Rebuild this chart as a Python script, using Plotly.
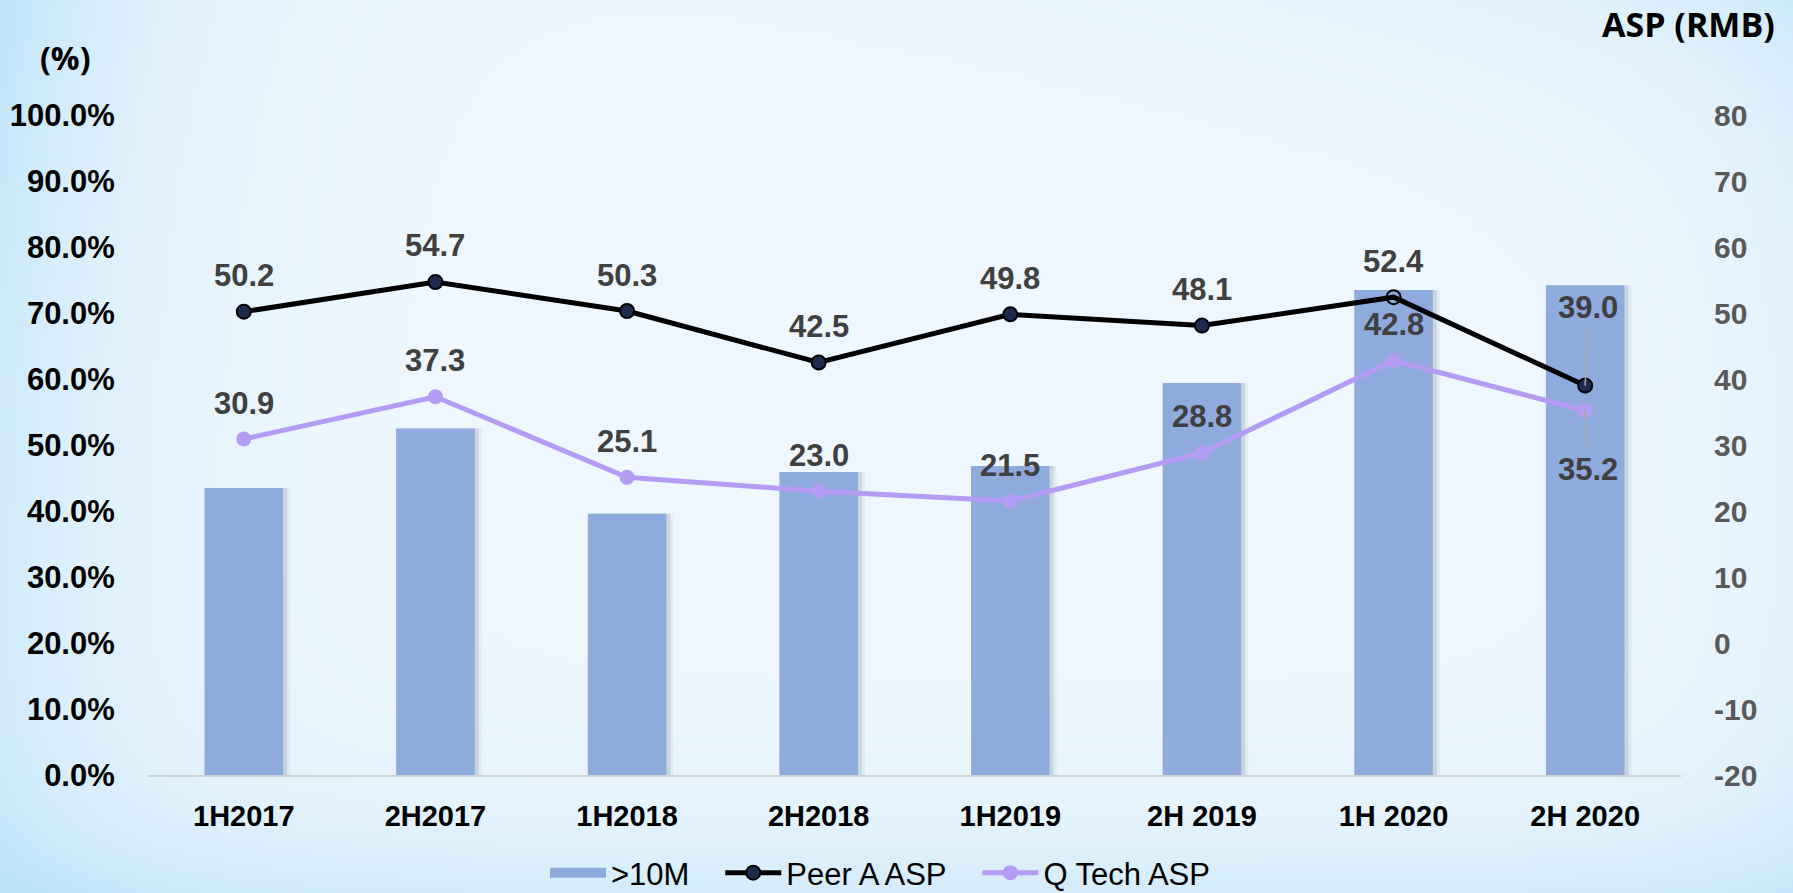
import base64
import struct
import zlib

import numpy as np
import plotly.graph_objects as go

# ---------------- data ----------------
categories = ["1H2017", "2H2017", "1H2018", "2H2018", "1H2019", "2H 2019", "1H 2020", "2H 2020"]
share_10m = [43.5, 52.5, 39.6, 45.9, 46.8, 59.4, 73.5, 74.2]          # left axis, %
peer_a_asp = [50.2, 54.7, 50.3, 42.5, 49.8, 48.1, 52.4, 39.0]         # right axis, RMB
q_tech_asp = [30.9, 37.3, 25.1, 23.0, 21.5, 28.8, 42.8, 35.2]         # right axis, RMB
left_ticks = [0, 10, 20, 30, 40, 50, 60, 70, 80, 90, 100]
right_ticks = [-20, -10, 0, 10, 20, 30, 40, 50, 60, 70, 80]
series_names = [">10M", "Peer A ASP", "Q Tech ASP"]

# ---------------- geometry / style ----------------
W, H = 1793, 893
ML, MR, MT, MB = 148, 112, 115, 118
PW, PH = W - ML - MR, H - MT - MB

BAR_COLOR = "#8FAADC"
PEER_COLOR = "#000000"
PEER_MARKER = "#1C2B4F"
QT_COLOR = "#B49BF4"
LABEL_COLOR = "#404040"
BOLD_FONT = "Arial, Liberation Sans, sans-serif"
LEGEND_FONT = "Arial, Liberation Sans, sans-serif"
TITLE_FONT = "Open Sans, Noto Sans, sans-serif"
GAP = "\u00a0\u00a0\u00a0"   # spacing after a legend entry


def png_uri(arr):
    h, w, _ = arr.shape
    raw = b"".join(b"\x00" + arr[y].tobytes() for y in range(h))

    def chunk(t, d):
        return struct.pack(">I", len(d)) + t + d + struct.pack(">I", zlib.crc32(t + d) & 0xFFFFFFFF)

    png = (b"\x89PNG\r\n\x1a\n"
           + chunk(b"IHDR", struct.pack(">IIBBBBB", w, h, 8, 2, 0, 0, 0))
           + chunk(b"IDAT", zlib.compress(raw, 9))
           + chunk(b"IEND", b""))
    return "data:image/png;base64," + base64.b64encode(png).decode()


# soft blue background gradient
gw, gh = 360, 180
u = np.linspace(0, 1, gw)[None, :]
v = np.linspace(0, 1, gh)[:, None]
center = np.array([239, 248, 254], dtype=float)
blue = np.array([190, 227, 249], dtype=float)
s = (0.95 * np.exp(-u / 0.08) * (0.55 + 0.45 * np.exp(-v / 0.35))
     + 0.55 * np.exp(-(1 - v) / 0.09)
     + 0.45 * np.exp(-v / 0.12) * np.exp(-(1 - u) / 0.25)
     + 0.25 * np.exp(-(1 - u) / 0.06))
s = np.clip(s, 0, 1)[..., None]
img = (center * (1 - s) + blue * s).clip(0, 255).astype(np.uint8)
bg_uri = png_uri(img)

fig = go.Figure()

# soft bar shadow
cat_px = PW / len(categories)
for off, alpha in [(7, 0.06), (4, 0.12)]:
    fig.add_trace(go.Bar(
        x=categories, y=share_10m, width=0.41, offset=-0.205 + off / cat_px,
        marker=dict(color=f"rgba(60,60,60,{alpha})", line=dict(width=0)),
        showlegend=False, hoverinfo="skip", yaxis="y"))

fig.add_trace(go.Bar(
    x=categories, y=share_10m, name=series_names[0], width=0.41, offset=-0.205,
    marker=dict(color=BAR_COLOR, line=dict(width=0)), yaxis="y", showlegend=False))
# legend entry for the bars drawn as a wide block (no data of its own)
fig.add_trace(go.Scatter(
    x=[None], y=[None], name=series_names[0] + GAP, mode="lines",
    line=dict(color=BAR_COLOR, width=16), showlegend=True, hoverinfo="skip"))

peer_fill = [PEER_MARKER] * len(categories)
peer_fill[6] = "rgba(0,0,0,0)"
fig.add_trace(go.Scatter(
    x=categories, y=peer_a_asp, name=series_names[1] + GAP, mode="lines+markers", yaxis="y2",
    line=dict(color=PEER_COLOR, width=5),
    marker=dict(size=14, color=peer_fill, line=dict(color="#000000", width=2))))

fig.add_trace(go.Scatter(
    x=categories, y=q_tech_asp, name=series_names[2], mode="lines+markers", yaxis="y2",
    line=dict(color=QT_COLOR, width=5),
    marker=dict(size=15, color=QT_COLOR)))

annotations = []
label_font = dict(family=BOLD_FONT, size=31, color=LABEL_COLOR, weight="bold")
n = len(categories)
for series, last_ay in [(peer_a_asp, -78), (q_tech_asp, 59)]:
    for i, (c, val) in enumerate(zip(categories, series)):
        if i == n - 1:
            annotations.append(dict(x=c, y=val, xref="x", yref="y2", text=f"{val:.1f}",
                                    showarrow=True, arrowhead=0, arrowwidth=1.5, arrowcolor="#A6A6A6",
                                    ax=3, ay=last_ay, standoff=0, font=label_font))
        else:
            annotations.append(dict(x=c, y=val, xref="x", yref="y2", text=f"{val:.1f}",
                                    showarrow=False, yshift=36, font=label_font))

annotations.append(dict(text="(%)", xref="paper", yref="paper",
                        x=(65 - ML) / PW, y=(H - MB - 58) / PH, xanchor="center", yanchor="middle",
                        showarrow=False,
                        font=dict(family=TITLE_FONT, size=32, color="#000000", weight="bold")))
annotations.append(dict(text="ASP (RMB)", xref="paper", yref="paper",
                        x=(1777 - ML) / PW, y=(H - MB - 24) / PH, xanchor="right", yanchor="middle",
                        showarrow=False,
                        font=dict(family=TITLE_FONT, size=34, color="#000000", weight="bold")))

fig.update_layout(
    width=W, height=H, autosize=False,
    margin=dict(l=ML, r=MR, t=MT, b=MB, pad=0, autoexpand=False),
    paper_bgcolor="#EEF8FE", plot_bgcolor="rgba(0,0,0,0)",
    barmode="overlay",
    showlegend=True,
    legend=dict(orientation="h", x=(545 - ML) / PW, xanchor="left",
                y=(H - MB - 873) / PH, yanchor="middle",
                font=dict(family=LEGEND_FONT, size=31, color="#000000"),
                bgcolor="rgba(0,0,0,0)", traceorder="normal", itemwidth=56),
    xaxis=dict(type="category", showgrid=False, showline=True, linecolor="#D0D3D6", linewidth=2,
               ticks="outside", ticklen=14, tickcolor="rgba(0,0,0,0)",
               tickfont=dict(family=BOLD_FONT, size=29, color="#000000", weight="bold"),
               range=[-0.5, n - 0.5], zeroline=False, automargin=False),
    yaxis=dict(range=[0, 100], tickvals=left_ticks, ticktext=[f"{t:.1f}%" for t in left_ticks],
               showgrid=False, zeroline=False, showline=False, automargin=False,
               ticks="outside", ticklen=26, tickcolor="rgba(0,0,0,0)",
               tickfont=dict(family=BOLD_FONT, size=31, color="#000000", weight="bold")),
    yaxis2=dict(range=[-20, 80], tickvals=right_ticks, ticktext=[str(t) for t in right_ticks],
                overlaying="y", side="right", showgrid=False, zeroline=False, showline=False,
                automargin=False,
                ticks="outside", ticklen=26, tickcolor="rgba(0,0,0,0)",
                tickfont=dict(family=BOLD_FONT, size=30, color="#595959", weight="bold")),
    annotations=annotations,
    images=[dict(source=bg_uri, xref="paper", yref="paper",
                 x=-ML / PW, y=1 + MT / PH, sizex=W / PW, sizey=H / PH,
                 xanchor="left", yanchor="top", sizing="stretch", layer="below")],
)

fig.write_html("out.html",
               config={"displayModeBar": False},
               post_script="document.body.style.margin='0';document.body.style.overflow='hidden';")
